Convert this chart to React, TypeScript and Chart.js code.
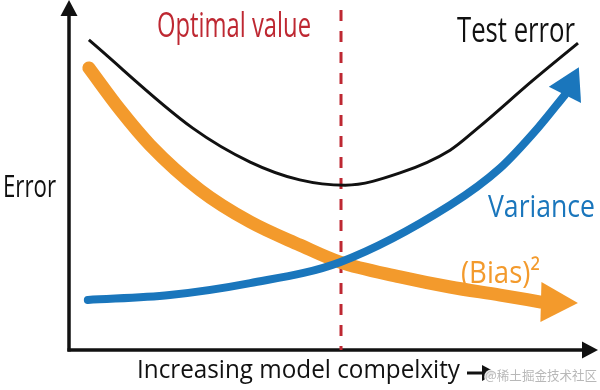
import React, { useEffect, useRef } from "react";
import { Chart, registerables } from "chart.js";

Chart.register(...registerables);

// Model complexity (x) and error (y) readings, arbitrary 0..10 units
const testErrorX = [0.4, 2.39, 3.49, 4.44, 5.31, 6.36, 7.32, 7.85, 8.91, 9.77];
const testErrorY = [8.86, 6.34, 5.37, 4.86, 4.71, 5.06, 5.71, 6.34, 7.71, 8.77];

const biasX = [0.4, 1.0, 1.57, 2.53, 3.49, 4.44, 5.21, 6.36, 7.32, 8.28, 9.06];
const biasY = [8.06, 6.86, 5.86, 4.57, 3.66, 3.0, 2.51, 2.09, 1.8, 1.57, 1.37];

const varianceX = [0.38, 1.95, 3.49, 5.21, 7.32, 8.28, 9.0, 9.52];
const varianceY = [1.43, 1.57, 1.91, 2.51, 4.14, 5.2, 6.34, 7.29];

const optimalX = 5.23;

const labels = {
  optimal: "Optimal value",
  test: "Test error",
  error: "Error",
  variance: "Variance",
  bias: "(Bias)²",
  xAxis: "Increasing model compelxity",
  watermark: "@稀土掘金技术社区",
};

const BLACK = "#111111";
const ORANGE = "#F39A2C";
const BLUE = "#1A76BC";
const RED = "#BE2832";
const FONT = '"Open Sans", "Noto Sans", sans-serif';

const toPoints = (xs: number[], ys: number[]) => xs.map((x, i) => ({ x, y: ys[i] }));

function drawText(
  ctx: CanvasRenderingContext2D,
  text: string,
  left: number,
  baseline: number,
  width: number,
  size: number,
  color: string,
  family = FONT
) {
  ctx.save();
  ctx.font = `${size}px ${family}`;
  ctx.textAlign = "left";
  ctx.textBaseline = "alphabetic";
  const w = ctx.measureText(text).width;
  ctx.translate(left, baseline);
  ctx.scale(width / w, 1);
  ctx.fillStyle = color;
  ctx.fillText(text, 0, 0);
  ctx.restore();
}

function tri(ctx: CanvasRenderingContext2D, tx: number, ty: number, angle: number, len: number, half: number) {
  const dx = Math.cos(angle), dy = Math.sin(angle);
  const bx = tx - dx * len, by = ty - dy * len;
  ctx.beginPath();
  ctx.moveTo(tx, ty);
  ctx.lineTo(bx - dy * half, by + dx * half);
  ctx.lineTo(bx + dy * half, by - dx * half);
  ctx.closePath();
  ctx.fill();
}

const decor = {
  id: "decor",
  beforeDatasetsDraw(chart: any) {
    const { ctx, chartArea, scales } = chart;
    const { left, bottom } = chartArea;
    ctx.save();
    ctx.strokeStyle = BLACK;
    ctx.fillStyle = BLACK;
    ctx.lineWidth = 3.5;
    const ax = left + 1;
    ctx.beginPath();
    ctx.moveTo(ax, bottom + 1.5);
    ctx.lineTo(ax, 12);
    ctx.stroke();
    tri(ctx, ax, 0, -Math.PI / 2, 16, 8.5);
    ctx.beginPath();
    ctx.moveTo(ax - 1.5, bottom);
    ctx.lineTo(585, bottom);
    ctx.stroke();
    tri(ctx, 598, bottom, 0, 16, 8.5);

    const ox = scales.x.getPixelForValue(optimalX);
    ctx.strokeStyle = RED;
    ctx.lineWidth = 3;
    ctx.setLineDash([11, 10]);
    ctx.beginPath();
    ctx.moveTo(ox, 10);
    ctx.lineTo(ox, bottom);
    ctx.stroke();
    ctx.restore();
  },
  afterDatasetsDraw(chart: any) {
    const { ctx } = chart;
    ctx.save();
    chart.data.datasets.forEach((ds: any, i: number) => {
      if (!ds.arrow) return;
      const pts = chart.getDatasetMeta(i).data;
      const last = pts[pts.length - 1];
      const ang = (ds.arrow.angle * Math.PI) / 180;
      const tx = last.x + Math.cos(ang) * ds.arrow.len;
      const ty = last.y + Math.sin(ang) * ds.arrow.len;
      ctx.fillStyle = ds.borderColor;
      tri(ctx, tx, ty, ang, ds.arrow.len, ds.arrow.half);
    });

    drawText(ctx, labels.optimal, 157, 37, 154, 34, RED);
    drawText(ctx, labels.test, 457, 42, 118, 34, BLACK);
    drawText(ctx, labels.error, 3, 197, 53, 31, BLACK);
    drawText(ctx, labels.variance, 488, 217, 107, 31, BLUE);
    drawText(ctx, labels.bias, 461, 283, 79, 31, ORANGE);
    drawText(ctx, labels.xAxis, 137, 378, 323, 25, BLACK);

    // arrow after x-axis title
    ctx.strokeStyle = BLACK;
    ctx.fillStyle = BLACK;
    ctx.lineWidth = 3;
    ctx.beginPath();
    ctx.moveTo(467, 373);
    ctx.lineTo(485, 373);
    ctx.stroke();
    tri(ctx, 497, 373, 0, 15, 8);

    // watermark
    ctx.font = '13px "Noto Sans CJK SC", sans-serif';
    ctx.textBaseline = "alphabetic";
    const w = ctx.measureText(labels.watermark).width;
    ctx.translate(485, 380);
    ctx.scale(112 / w, 1);
    ctx.lineWidth = 3;
    ctx.strokeStyle = "rgba(255,255,255,0.9)";
    ctx.strokeText(labels.watermark, 0, 0);
    ctx.fillStyle = "#B8B8B8";
    ctx.fillText(labels.watermark, 0, 0);
    ctx.restore();
  },
};

export default function App() {
  const ref = useRef<HTMLCanvasElement>(null);
  useEffect(() => {
    if (!ref.current) return;
    const chart = new Chart(ref.current, {
      type: "line",
      data: {
        datasets: [
          {
            label: labels.test,
            data: toPoints(testErrorX, testErrorY),
            borderColor: BLACK,
            borderWidth: 3,
            borderCapStyle: "butt",
            pointRadius: 0,
            cubicInterpolationMode: "monotone",
            fill: false,
          },
          {
            label: labels.variance,
            data: toPoints(varianceX, varianceY),
            borderColor: BLUE,
            borderWidth: 8,
            borderCapStyle: "round",
            pointRadius: 0,
            cubicInterpolationMode: "monotone",
            fill: false,
            arrow: { angle: -63.4, len: 31, half: 18 },
          } as any,
          {
            label: labels.bias,
            data: toPoints(biasX, biasY),
            borderColor: ORANGE,
            borderWidth: 13,
            borderCapStyle: "round",
            borderJoinStyle: "round",
            pointRadius: 0,
            cubicInterpolationMode: "monotone",
            fill: false,
            arrow: { angle: 1.5, len: 37, half: 20 },
          } as any,
        ],
      },
      options: {
        responsive: false,
        animation: false,
        events: [],
        layout: { padding: { left: 68, right: 10, top: 0, bottom: 40 } },
        scales: {
          x: { type: "linear", min: 0, max: 10, display: false },
          y: { type: "linear", min: 0, max: 10, display: false },
        },
        plugins: { legend: { display: false }, tooltip: { enabled: false }, title: { display: false } },
      },
      plugins: [decor],
    });
    return () => chart.destroy();
  }, []);
  return (
    <div style={{ position: "fixed", left: 0, top: 0, width: 600, height: 390, background: "#fff" }}>
      <canvas ref={ref} width={600} height={390} style={{ display: "block" }} />
    </div>
  );
}
